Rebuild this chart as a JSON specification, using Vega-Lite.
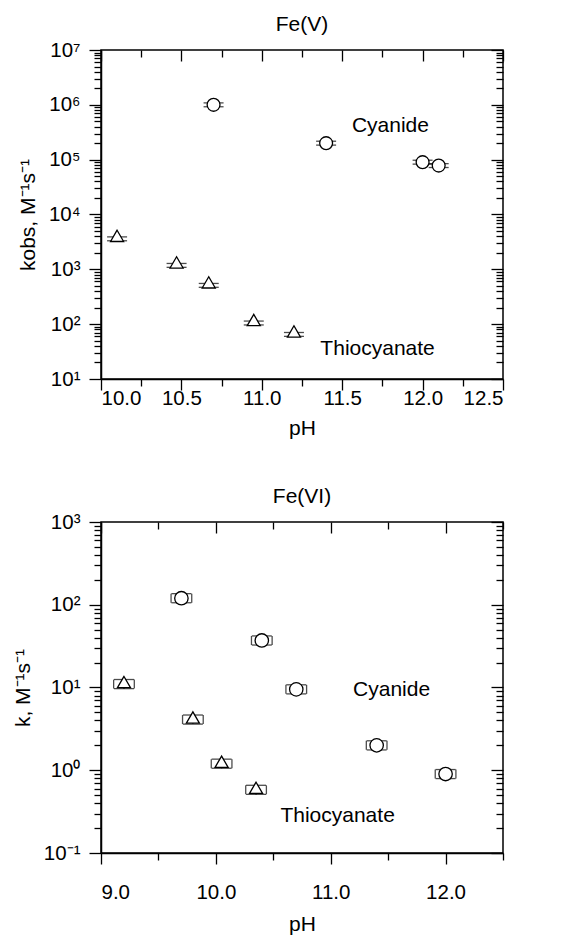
{
  "$schema": "https://vega.github.io/schema/vega-lite/v6.json",
  "padding": {"left": 11, "top": 13, "right": 0, "bottom": 0},
  "spacing": 45,
  "config": {
    "font": "Liberation Sans",
    "view": {"stroke": "black", "strokeWidth": 1.5},
    "title": {"fontSize": 21, "fontWeight": "normal", "color": "black", "font": "Liberation Sans", "offset": 5},
    "axis": {
      "grid": false,
      "domainColor": "black", "domainWidth": 1.5,
      "tickColor": "black", "tickWidth": 1.3,
      "labelColor": "black", "labelFont": "Liberation Sans", "labelFontSize": 20.5,
      "titleColor": "black", "titleFont": "Liberation Sans", "titleFontSize": 21, "titleFontWeight": "normal"
    },
    "text": {"font": "Liberation Sans", "fontSize": 21, "color": "black"}
  },
  "datasets": {
    "fe5": [
      {"series": "Cyanide", "pH": 10.7, "k": 1000000, "lo": 922000, "hi": 1085000},
      {"series": "Cyanide", "pH": 11.4, "k": 200000, "lo": 184300, "hi": 217000},
      {"series": "Cyanide", "pH": 12.0, "k": 90000, "lo": 82900, "hi": 97700},
      {"series": "Cyanide", "pH": 12.1, "k": 78000, "lo": 71900, "hi": 84600},
      {"series": "Thiocyanate", "pH": 10.1, "k": 3600, "lo": 3318, "hi": 3906},
      {"series": "Thiocyanate", "pH": 10.47, "k": 1180, "lo": 1088, "hi": 1280},
      {"series": "Thiocyanate", "pH": 10.67, "k": 510, "lo": 470, "hi": 553},
      {"series": "Thiocyanate", "pH": 10.95, "k": 105, "lo": 96.8, "hi": 113.9},
      {"series": "Thiocyanate", "pH": 11.2, "k": 65, "lo": 59.9, "hi": 70.5}
    ],
    "fe5lab": [
      {"label": "Cyanide", "pH": 11.8, "k": 410000},
      {"label": "Thiocyanate", "pH": 11.72, "k": 35.6}
    ],
    "fe6": [
      {"series": "Cyanide", "pH": 9.7, "k": 120, "lo": 105.7, "hi": 136.2, "pHlo": 9.61, "pHhi": 9.79},
      {"series": "Cyanide", "pH": 10.4, "k": 37, "lo": 32.6, "hi": 42.0, "pHlo": 10.31, "pHhi": 10.49},
      {"series": "Cyanide", "pH": 10.7, "k": 9.5, "lo": 8.37, "hi": 10.78, "pHlo": 10.61, "pHhi": 10.79},
      {"series": "Cyanide", "pH": 11.4, "k": 2.0, "lo": 1.76, "hi": 2.27, "pHlo": 11.31, "pHhi": 11.49},
      {"series": "Cyanide", "pH": 12.0, "k": 0.9, "lo": 0.793, "hi": 1.02, "pHlo": 11.91, "pHhi": 12.09},
      {"series": "Thiocyanate", "pH": 9.2, "k": 11, "lo": 9.69, "hi": 12.49, "pHlo": 9.11, "pHhi": 9.29},
      {"series": "Thiocyanate", "pH": 9.8, "k": 4.1, "lo": 3.61, "hi": 4.65, "pHlo": 9.71, "pHhi": 9.89},
      {"series": "Thiocyanate", "pH": 10.05, "k": 1.2, "lo": 1.057, "hi": 1.362, "pHlo": 9.96, "pHhi": 10.14},
      {"series": "Thiocyanate", "pH": 10.35, "k": 0.58, "lo": 0.511, "hi": 0.658, "pHlo": 10.26, "pHhi": 10.44}
    ],
    "fe6lab": [
      {"label": "Cyanide", "pH": 11.53, "k": 9.2},
      {"label": "Thiocyanate", "pH": 11.06, "k": 0.28}
    ]
  },
  "vconcat": [
    {
      "title": "Fe(V)",
      "width": 402,
      "height": 329,
      "resolve": {"axis": {"x": "independent", "y": "independent"}},
      "layer": [
        {
          "data": {"name": "fe5"},
          "mark": {"type": "errorbar", "ticks": {"size": 20}, "color": "black", "thickness": 1.3},
          "encoding": {
            "x": {"field": "pH", "type": "quantitative", "scale": {"domain": [10, 12.5], "nice": false, "zero": false}, "axis": null},
            "y": {"field": "lo", "type": "quantitative", "scale": {"type": "log", "domain": [10, 10000000], "nice": false}, "axis": null},
            "y2": {"field": "hi"}
          }
        },
        {
          "data": {"name": "fe5"},
          "transform": [{"filter": "datum.series === 'Cyanide'"}],
          "mark": {"type": "point", "shape": "circle", "filled": true, "fill": "white", "stroke": "black", "strokeWidth": 1.3, "opacity": 1, "size": 165},
          "encoding": {
            "x": {"field": "pH", "type": "quantitative", "scale": {"domain": [10, 12.5], "nice": false, "zero": false},
              "axis": {"orient": "bottom", "title": "pH", "values": [10, 10.25, 10.5, 10.75, 11, 11.25, 11.5, 11.75, 12, 12.25, 12.5],
                "labelExpr": "(datum.value * 2) % 1 == 0 ? format(datum.value, '.1f') : ''",
                "tickSize": {"condition": {"test": "(datum.value * 2) % 1 == 0", "value": 11}, "value": 7},
                "labelPadding": -2, "titlePadding": 9}},
            "y": {"field": "k", "type": "quantitative", "scale": {"type": "log", "domain": [10, 10000000], "nice": false},
              "axis": {"orient": "left", "title": "kobs, M⁻¹s⁻¹", "titlePadding": 10, "labelPadding": 9,
                "values": [10,20,30,40,50,60,70,80,90,100,200,300,400,500,600,700,800,900,1000,2000,3000,4000,5000,6000,7000,8000,9000,10000,20000,30000,40000,50000,60000,70000,80000,90000,100000,200000,300000,400000,500000,600000,700000,800000,900000,1000000,2000000,3000000,4000000,5000000,6000000,7000000,8000000,9000000,10000000],
                "labelExpr": "abs(log(datum.value)/LN10 - round(log(datum.value)/LN10)) < 0.001 ? '10' + (round(log(datum.value)/LN10) < 0 ? '⁻' : '') + ['⁰','¹','²','³','⁴','⁵','⁶','⁷','⁸','⁹'][abs(round(log(datum.value)/LN10))] : ''",
                "tickSize": {"condition": {"test": "abs(log(datum.value)/LN10 - round(log(datum.value)/LN10)) < 0.001", "value": 12}, "value": 7}}}
          }
        },
        {
          "data": {"name": "fe5"},
          "transform": [{"filter": "datum.series === 'Thiocyanate'"}],
          "mark": {"type": "point", "shape": "triangle-up", "filled": true, "fill": "white", "stroke": "black", "strokeWidth": 1.3, "opacity": 1, "size": 170, "yOffset": -3},
          "encoding": {
            "x": {"field": "pH", "type": "quantitative", "scale": {"domain": [10, 12.5], "nice": false, "zero": false}, "axis": null},
            "y": {"field": "k", "type": "quantitative", "scale": {"type": "log", "domain": [10, 10000000], "nice": false}, "axis": null}
          }
        },
        {
          "data": {"name": "fe5lab"},
          "mark": {"type": "text", "align": "center", "baseline": "middle"},
          "encoding": {
            "text": {"field": "label"},
            "x": {"field": "pH", "type": "quantitative", "scale": {"domain": [10, 12.5], "nice": false, "zero": false},
              "axis": {"orient": "top", "title": null, "labels": false, "domain": false, "offset": -11, "tickSize": 11, "values": [10, 10.5, 11, 11.5, 12, 12.5]}},
            "y": {"field": "k", "type": "quantitative", "scale": {"type": "log", "domain": [10, 10000000], "nice": false},
              "axis": {"orient": "right", "title": null, "labels": false, "domain": false, "offset": -12, "tickSize": 12, "values": [10, 100, 1000, 10000, 100000, 1000000, 10000000]}}
          }
        },
        {
          "data": {"name": "fe5"},
          "mark": {"type": "point", "opacity": 0},
          "encoding": {
            "x": {"field": "pH", "type": "quantitative", "scale": {"domain": [10, 12.5], "nice": false, "zero": false},
              "axis": {"orient": "top", "title": null, "labels": false, "domain": false, "offset": -7, "tickSize": 7, "values": [10.25, 10.75, 11.25, 11.75, 12.25]}},
            "y": {"field": "k", "type": "quantitative", "scale": {"type": "log", "domain": [10, 10000000], "nice": false},
              "axis": {"orient": "right", "title": null, "labels": false, "domain": false, "offset": -7, "tickSize": 7,
                "values": [20,30,40,50,60,70,80,90,200,300,400,500,600,700,800,900,2000,3000,4000,5000,6000,7000,8000,9000,20000,30000,40000,50000,60000,70000,80000,90000,200000,300000,400000,500000,600000,700000,800000,900000,2000000,3000000,4000000,5000000,6000000,7000000,8000000,9000000]}}
          }
        }
      ]
    },
    {
      "title": "Fe(VI)",
      "width": 402,
      "height": 331,
      "resolve": {"axis": {"x": "independent", "y": "independent"}},
      "layer": [
        {
          "data": {"name": "fe6"},
          "mark": {"type": "errorbar", "ticks": {"size": 20}, "color": "black", "thickness": 1.3},
          "encoding": {
            "x": {"field": "pH", "type": "quantitative", "scale": {"domain": [9, 12.5], "nice": false, "zero": false}, "axis": null},
            "y": {"field": "lo", "type": "quantitative", "scale": {"type": "log", "domain": [0.1, 1000], "nice": false}, "axis": null},
            "y2": {"field": "hi"}
          }
        },
        {
          "data": {"name": "fe6"},
          "mark": {"type": "errorbar", "ticks": {"size": 9}, "rule": false, "color": "black", "thickness": 1.3},
          "encoding": {
            "x": {"field": "pHlo", "type": "quantitative", "scale": {"domain": [9, 12.5], "nice": false, "zero": false}, "axis": null},
            "x2": {"field": "pHhi"},
            "y": {"field": "k", "type": "quantitative", "scale": {"type": "log", "domain": [0.1, 1000], "nice": false}, "axis": null}
          }
        },
        {
          "data": {"name": "fe6"},
          "transform": [{"filter": "datum.series === 'Cyanide'"}],
          "mark": {"type": "point", "shape": "circle", "filled": true, "fill": "white", "stroke": "black", "strokeWidth": 1.3, "opacity": 1, "size": 180},
          "encoding": {
            "x": {"field": "pH", "type": "quantitative", "scale": {"domain": [9, 12.5], "nice": false, "zero": false},
              "axis": {"orient": "bottom", "title": "pH", "values": [9, 9.5, 10, 10.5, 11, 11.5, 12, 12.5],
                "labelExpr": "datum.value % 1 == 0 && datum.value < 12.5 ? format(datum.value, '.1f') : ''",
                "tickSize": {"condition": {"test": "datum.value % 1 == 0", "value": 11}, "value": 7},
                "labelPadding": 18, "titlePadding": 11}},
            "y": {"field": "k", "type": "quantitative", "scale": {"type": "log", "domain": [0.1, 1000], "nice": false},
              "axis": {"orient": "left", "title": "k, M⁻¹s⁻¹", "titlePadding": 10, "labelPadding": 9,
                "values": [0.1,0.2,0.3,0.4,0.5,0.6,0.7,0.8,0.9,1,2,3,4,5,6,7,8,9,10,20,30,40,50,60,70,80,90,100,200,300,400,500,600,700,800,900,1000],
                "labelExpr": "abs(log(datum.value)/LN10 - round(log(datum.value)/LN10)) < 0.001 ? '10' + (round(log(datum.value)/LN10) < 0 ? '⁻' : '') + ['⁰','¹','²','³','⁴','⁵','⁶','⁷','⁸','⁹'][abs(round(log(datum.value)/LN10))] : ''",
                "tickSize": {"condition": {"test": "abs(log(datum.value)/LN10 - round(log(datum.value)/LN10)) < 0.001", "value": 12}, "value": 7}}}
          }
        },
        {
          "data": {"name": "fe6"},
          "transform": [{"filter": "datum.series === 'Thiocyanate'"}],
          "mark": {"type": "point", "shape": "triangle-up", "filled": true, "fill": "white", "stroke": "black", "strokeWidth": 1.3, "opacity": 1, "size": 170, "yOffset": -2},
          "encoding": {
            "x": {"field": "pH", "type": "quantitative", "scale": {"domain": [9, 12.5], "nice": false, "zero": false}, "axis": null},
            "y": {"field": "k", "type": "quantitative", "scale": {"type": "log", "domain": [0.1, 1000], "nice": false}, "axis": null}
          }
        },
        {
          "data": {"name": "fe6lab"},
          "mark": {"type": "text", "align": "center", "baseline": "middle"},
          "encoding": {
            "text": {"field": "label"},
            "x": {"field": "pH", "type": "quantitative", "scale": {"domain": [9, 12.5], "nice": false, "zero": false},
              "axis": {"orient": "top", "title": null, "labels": false, "domain": false, "offset": -11, "tickSize": 11, "values": [9, 10, 11, 12]}},
            "y": {"field": "k", "type": "quantitative", "scale": {"type": "log", "domain": [0.1, 1000], "nice": false},
              "axis": {"orient": "right", "title": null, "labels": false, "domain": false, "offset": -12, "tickSize": 12, "values": [0.1, 1, 10, 100, 1000]}}
          }
        },
        {
          "data": {"name": "fe6"},
          "mark": {"type": "point", "opacity": 0},
          "encoding": {
            "x": {"field": "pH", "type": "quantitative", "scale": {"domain": [9, 12.5], "nice": false, "zero": false},
              "axis": {"orient": "top", "title": null, "labels": false, "domain": false, "offset": -7, "tickSize": 7, "values": [9.5, 10.5, 11.5, 12.5]}},
            "y": {"field": "k", "type": "quantitative", "scale": {"type": "log", "domain": [0.1, 1000], "nice": false},
              "axis": {"orient": "right", "title": null, "labels": false, "domain": false, "offset": -7, "tickSize": 7,
                "values": [0.2,0.3,0.4,0.5,0.6,0.7,0.8,0.9,2,3,4,5,6,7,8,9,20,30,40,50,60,70,80,90,200,300,400,500,600,700,800,900]}}
          }
        }
      ]
    }
  ]
}
